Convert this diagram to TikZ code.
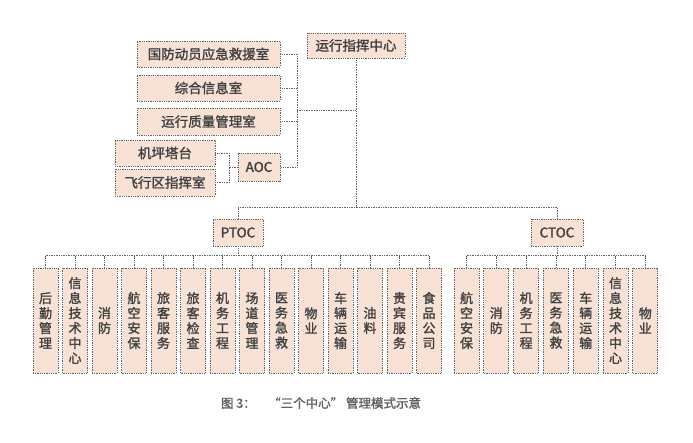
\documentclass[tikz,border=0pt]{standalone}
\usepackage{fontspec}
\setmainfont{Noto Sans CJK SC}[AutoFakeBold=1.6]
\definecolor{boxfill}{RGB}{248,226,214}
\definecolor{boxline}{RGB}{100,100,100}
\definecolor{txt}{RGB}{65,65,65}
\begin{document}
\begin{tikzpicture}[x=1pt,y=-1pt,
 box/.style={draw=boxline, densely dotted, line width=0.8pt, fill=boxfill, text=txt, inner sep=0pt, font=\fontsize{13.5}{15}\selectfont\bfseries, align=center},
 vbox/.style={box, minimum width=25pt, minimum height=105pt, font=\fontsize{13}{15}\selectfont\bfseries},
 conn/.style={draw=boxline, densely dotted, line width=0.7pt}]
\useasboundingbox[fill=white] (0,0) rectangle (693,442);

% top level
\node[box, minimum width=98pt, minimum height=25pt] (zh) at (356,45.5) {运行指挥中心};
\node[box, minimum width=143pt, minimum height=26pt] (gf) at (208.5,54) {国防动员应急救援室};
\node[box, minimum width=143pt, minimum height=26pt] (zx) at (208.5,88) {综合信息室};
\node[box, minimum width=143pt, minimum height=27pt] (yx) at (208.5,121.5) {运行质量管理室};
\node[box, minimum width=100pt, minimum height=26pt] (jp) at (165,153) {机坪塔台};
\node[box, minimum width=100pt, minimum height=27pt] (fx) at (165,182.5) {飞行区指挥室};
\node[box, minimum width=42pt, minimum height=28pt] (aoc) at (259,167) {AOC};
\node[box, minimum width=50pt, minimum height=27pt] (ptoc) at (238,232.5) {PTOC};
\node[box, minimum width=52pt, minimum height=27pt] (ctoc) at (557,232.5) {CTOC};

% junctions
\coordinate (ja) at (297,54);
\coordinate (jb) at (297,167);
\coordinate (jm) at (297,110);
\coordinate (jt) at (zh.south |- jm);
\coordinate (jbus) at (zh.south |- 0,207);
\coordinate (jj1) at (229,153);
\coordinate (jj2) at (229,182.5);

\draw[conn] (gf.east) -- (ja) -- (jb) -- (aoc.east);
\draw[conn] (zx.east) -- (zx.east -| ja);
\draw[conn] (yx.east) -- (yx.east -| ja);
\draw[conn] (jm) -- (jt);
\draw[conn] (zh.south) -- (jbus);
\draw[conn] (jp.east) -- (jj1) -- (jj2) -- (fx.east);
\draw[conn] (aoc.west) -- (aoc.west -| jj1);
\draw[conn] (ptoc.north) |- (jbus) -| (ctoc.north);

% PTOC children
\foreach \i/\t in {0/{后\\勤\\管\\理},1/{信\\息\\技\\术\\中\\心},2/{消\\防},3/{航\\空\\安\\保},4/{旅\\客\\服\\务},5/{旅\\客\\检\\查},6/{机\\务\\工\\程},7/{场\\道\\管\\理},8/{医\\务\\急\\救},9/{物\\业},10/{车\\辆\\运\\输},11/{油\\料},12/{贵\\宾\\服\\务},13/{食\\品\\公\\司}}{
  \node[vbox] (p\i) at ({45.5+29.5*\i},320.5) {\t};
  \draw[conn] (p\i.north) -- ++(0,-12);
}
\draw[conn] (ptoc.south) -- (ptoc.south |- 0,256);
\draw[conn] ([yshift=12pt]p0.north) -- ([yshift=12pt]p13.north);

% CTOC children
\foreach \i/\t in {0/{航\\空\\安\\保},1/{消\\防},2/{机\\务\\工\\程},3/{医\\务\\急\\救},4/{车\\辆\\运\\输},5/{信\\息\\技\\术\\中\\心},6/{物\\业}}{
  \node[vbox] (c\i) at ({466.5+29.8*\i},320.5) {\t};
  \draw[conn] (c\i.north) -- ++(0,-12);
}
\draw[conn] (ctoc.south) -- (ctoc.south |- 0,256);
\draw[conn] ([yshift=12pt]c0.north) -- ([yshift=12pt]c6.north);

\node[text=gray!75!black, font=\fontsize{12.5}{14}\selectfont\bfseries] (cap) at (321,403) {图 3：\quad “三个中心” 管理模式示意};
\end{tikzpicture}
\end{document}
